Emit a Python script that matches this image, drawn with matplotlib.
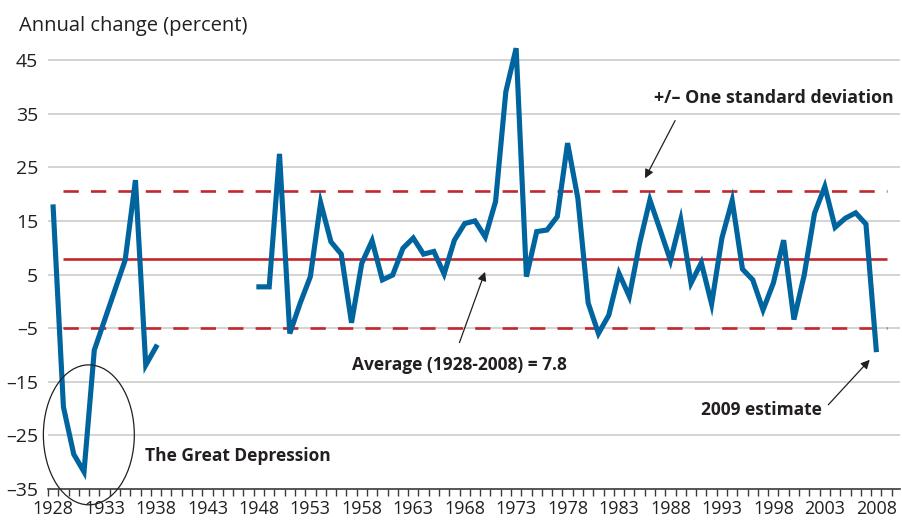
import numpy as np
import matplotlib
matplotlib.use("Agg")
import matplotlib.pyplot as plt
from matplotlib.patches import Ellipse

plt.rcParams['font.family'] = ['Open Sans', 'DejaVu Sans']

# annual change (percent)
years_a = [1928, 1929, 1930, 1931, 1932, 1933, 1934, 1935, 1936, 1937, 1938]
change_a = [17.6, -19.7, -28.5, -31.8, -9.1, -3.5, 2.1, 7.7, 22.6, -11.9, -8.5]

years_b = list(range(1948, 2009))
change_b = [2.7, 2.7, 27.5, -6.0, -0.4, 4.6, 18.4, 11.1, 8.8, -4.0,
            7.1, 11.3, 4.0, 4.9, 9.9, 11.8, 8.8, 9.3, 5.1, 11.4,
            14.5, 15.0, 12.0, 18.6, 39.1, 47.2, 4.6, 13.0, 13.3, 15.8,
            29.5, 19.2, -0.3, -6.0, -2.6, 5.2, 0.9, 10.8, 18.9, 13.3,
            7.6, 15.2, 3.4, 7.2, -0.5, 11.8, 18.8, 6.0, 4.0, -1.6,
            3.4, 11.4, -3.4, 4.9, 16.4, 21.4, 13.8, 15.5, 16.5, 14.4,
            -9.0]

average = 7.8
std_dev = 12.7
tick_years = list(range(1928, 2009, 5))
y_ticks = [-35, -25, -15, -5, 5, 15, 25, 35, 45]

blue = '#00659e'
red = '#c1272d'
ink = '#231f20'

fig = plt.figure(figsize=(9.03, 5.2), dpi=100)
ax = fig.add_axes([48 / 903, 31 / 520, 852 / 903, 455.8 / 520])

ax.set_xlim(1927.514, 2010.31)
ax.set_ylim(-35, 50)

# grid
for y in y_ticks[1:]:
    ax.axhline(y, color='#c8c8c8', lw=1.1, zorder=1)

# average and +/- one standard deviation
ax.hlines(average, 1928.94, 2009.0, color=red, lw=1.9, zorder=2)
ax.hlines([average + std_dev, average - std_dev], 1928.94, 2009.0,
          color=red, lw=1.9, linestyles=(0, (5.8, 4.6)), zorder=2)

ax.plot(years_a, change_a, color=blue, lw=3.7, solid_joinstyle='miter', zorder=3)
ax.plot(years_b, change_b, color=blue, lw=3.7, solid_joinstyle='miter', zorder=3)

for s in ['left', 'right', 'top']:
    ax.spines[s].set_visible(False)
ax.spines['bottom'].set_color('#3a3a3a')
ax.spines['bottom'].set_linewidth(1.2)

ax.set_xticks(tick_years)
ax.set_xticklabels([str(y) for y in tick_years])
ax.set_xticks(np.arange(1927.5, 2010.5, 1), minor=True)
ax.tick_params(axis='x', which='major', length=0, pad=8, labelsize=13, labelcolor=ink)
ax.tick_params(axis='x', which='minor', length=5, width=1.0, color='#3a3a3a', direction='out')
ax.set_yticks(y_ticks)
ax.set_yticklabels([str(v).replace('-', '\u2013') for v in y_ticks])
ax.tick_params(axis='y', length=0, pad=7, labelsize=14, labelcolor=ink)

fig.text(19 / 903, 1 - 30.7 / 520, 'Annual change (percent)', fontsize=14.5,
         color=ink, va='baseline', ha='left')

# annotations
arrow = dict(arrowstyle='-|>', color=ink, lw=0.9, mutation_scale=13, shrinkA=0, shrinkB=0)
ax.annotate('', xy=(1985.53, 22.94), xytext=(1988.45, 33.7), arrowprops=arrow)
ax.annotate('', xy=(1969.98, 5.5), xytext=(1967.49, -7.7), arrowprops=arrow)
ax.annotate('', xy=(2007.37, -10.9), xytext=(2003.34, -19.3), arrowprops=arrow)

bold = dict(fontsize=12.5, fontweight='bold', color=ink, ha='center', va='center')
ax.text(1998.03, 37.86, '+/\u2013 One standard deviation', fontsize=12.8,
        fontweight='bold', color=ink, ha='center', va='center')
ax.text(1967.48, -11.87, 'Average (1928-2008) = 7.8', **bold)
ax.text(1996.87, -20.27, '2009 estimate', **bold)
ax.text(1945.98, -28.84, 'The Great Depression', **bold)

ax.add_patch(Ellipse((1931.47, -24.9), 8.84, 26.1, fill=False, ec=ink, lw=0.9,
                     clip_on=False, zorder=4))

fig.savefig('out.png', dpi=100)
